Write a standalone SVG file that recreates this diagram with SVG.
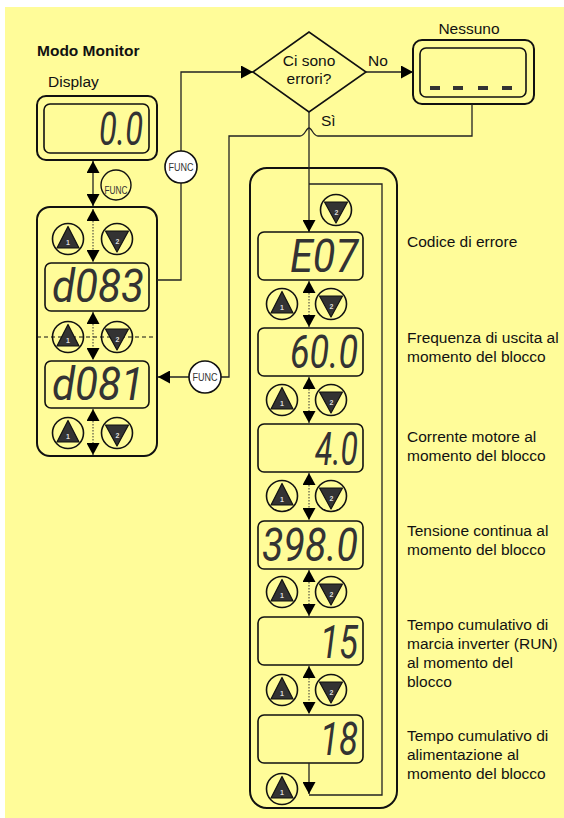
<svg xmlns="http://www.w3.org/2000/svg" width="564" height="818" viewBox="0 0 564 818">
<style>
.bg{fill:#FFFC99}
.lbl{font-family:"Liberation Sans",Arial,sans-serif;font-size:15.5px;fill:#111}
.ttl{font-family:"Liberation Sans",Arial,sans-serif;font-size:15.5px;font-weight:bold;fill:#111}
.box{fill:none;stroke:#111;stroke-width:2}
.scr{fill:none;stroke:#111;stroke-width:1.6}
.seg{font-family:Roboto,"Liberation Sans",Arial,sans-serif;font-style:italic;font-weight:400;font-size:47px;fill:#333;text-anchor:end}
.btn{fill:none;stroke:#111;stroke-width:1.6}
.tri{fill:#333;stroke:#111;stroke-width:1.2;stroke-linejoin:round}
.num{font-family:"Liberation Sans",Arial,sans-serif;font-size:7px;font-weight:bold;fill:#ddd;text-anchor:middle}
.con{fill:none;stroke:#222;stroke-width:1.3}
.dot{fill:none;stroke:#333;stroke-width:1;stroke-dasharray:1.5 1.5}
.dash{fill:none;stroke:#111;stroke-width:1;stroke-dasharray:4 3}
.fn{fill:#fff;stroke:#111;stroke-width:1.6}
.fns{fill:#FFFC99;stroke:#111;stroke-width:1.4}
.fnt{font-family:"Liberation Sans",Arial,sans-serif;font-size:10.5px;fill:#333;text-anchor:middle}
.dsh{fill:#333}
</style>
<defs>
<marker id="ah" viewBox="0 0 12 13" refX="12" refY="6.5" markerWidth="12" markerHeight="13" markerUnits="userSpaceOnUse" orient="auto-start-reverse">
<path d="M0,0 L12,6.5 L0,13 z" fill="#000"/>
</marker>
<g id="up">
<circle class="btn" cx="0" cy="0" r="15.5"/>
<polygon class="tri" points="0,-12.5 -11,9 11,9"/>
<text class="num" x="0" y="6">1</text>
</g>
<g id="dn">
<circle class="btn" cx="0" cy="0" r="15.5"/>
<polygon class="tri" points="-11.5,-8 11.5,-8 0,13"/>
<text class="num" x="0.5" y="5">2</text>
</g>
</defs>

<rect class="bg" x="5" y="7" width="559" height="811"/>

<g id="title">
<text class="ttl" x="37" y="56">Modo Monitor</text>
<text class="lbl" x="48" y="87">Display</text>
</g>

<g id="display">
<rect class="box" x="37" y="96" width="120" height="64" rx="9"/>
<rect class="scr" x="44" y="104" width="105" height="49" rx="6"/>
<text class="seg" x="143" y="145" textLength="44" lengthAdjust="spacingAndGlyphs">0.0</text>
</g>

<g id="left-panel">
<rect class="box" x="37" y="207" width="120" height="249" rx="13"/>
<line class="dash" x1="37" y1="337" x2="157" y2="337"/>
<rect class="scr" x="45" y="263" width="104" height="48" rx="6"/>
<text class="seg" x="144" y="302" textLength="92" lengthAdjust="spacingAndGlyphs">d083</text>
<rect class="scr" x="45" y="361" width="104" height="47" rx="6"/>
<text class="seg" x="144" y="400" textLength="92" lengthAdjust="spacingAndGlyphs">d081</text>
<use href="#up" x="68" y="239"/>
<use href="#dn" x="117" y="239"/>
<use href="#up" x="68" y="337"/>
<use href="#dn" x="117" y="337"/>
<use href="#up" x="68" y="433"/>
<use href="#dn" x="117" y="433"/>
<line class="dot" x1="93" y1="209" x2="93" y2="262" marker-start="url(#ah)" marker-end="url(#ah)"/>
<line class="dot" x1="93" y1="312" x2="93" y2="360" marker-start="url(#ah)" marker-end="url(#ah)"/>
<line class="dot" x1="93" y1="409" x2="93" y2="455" marker-start="url(#ah)" marker-end="url(#ah)"/>
</g>

<g id="decision">
<polygon class="scr" points="253,72 309,32 366,72 309,112"/>
<text class="lbl" x="309" y="66" text-anchor="middle">Ci sono</text>
<text class="lbl" x="309" y="83.5" text-anchor="middle">errori?</text>
</g>

<g id="nessuno">
<text class="lbl" x="469" y="34" text-anchor="middle">Nessuno</text>
<rect class="box" x="413" y="40" width="121" height="64" rx="9"/>
<rect class="scr" x="420" y="48" width="106" height="49" rx="6"/>
<rect class="dsh" x="430" y="86" width="10" height="4"/>
<rect class="dsh" x="453" y="86" width="10" height="4"/>
<rect class="dsh" x="478" y="86" width="10" height="4"/>
<rect class="dsh" x="502" y="86" width="10" height="4"/>
</g>

<g id="right-panel">
<rect class="box" x="250" y="168" width="147" height="640" rx="17"/>
<use href="#dn" x="336" y="210"/>
<rect class="scr" x="258" y="232" width="105" height="48" rx="6"/>
<text class="seg" x="358" y="272" textLength="68" lengthAdjust="spacingAndGlyphs">E07</text>
<rect class="scr" x="258" y="328" width="105" height="48" rx="6"/>
<text class="seg" x="358" y="368" textLength="68" lengthAdjust="spacingAndGlyphs">60.0</text>
<rect class="scr" x="258" y="424" width="105" height="48" rx="6"/>
<text class="seg" x="358" y="465" textLength="43" lengthAdjust="spacingAndGlyphs">4.0</text>
<rect class="scr" x="258" y="521" width="105" height="48" rx="6"/>
<text class="seg" x="358" y="561" textLength="96" lengthAdjust="spacingAndGlyphs">398.0</text>
<rect class="scr" x="258" y="617" width="105" height="48" rx="6"/>
<text class="seg" x="358" y="658" textLength="38" lengthAdjust="spacingAndGlyphs">15</text>
<rect class="scr" x="258" y="715" width="105" height="48" rx="6"/>
<text class="seg" x="358" y="755" textLength="38" lengthAdjust="spacingAndGlyphs">18</text>
<use href="#up" x="282" y="304"/>
<use href="#dn" x="331" y="304"/>
<use href="#up" x="282" y="400"/>
<use href="#dn" x="331" y="400"/>
<use href="#up" x="282" y="496"/>
<use href="#dn" x="331" y="496"/>
<use href="#up" x="282" y="592"/>
<use href="#dn" x="331" y="592"/>
<use href="#up" x="282" y="690"/>
<use href="#dn" x="331" y="690"/>
<use href="#up" x="282" y="789"/>
<line class="dot" x1="309" y1="281" x2="309" y2="327" marker-start="url(#ah)" marker-end="url(#ah)"/>
<line class="dot" x1="309" y1="377" x2="309" y2="423" marker-start="url(#ah)" marker-end="url(#ah)"/>
<line class="dot" x1="309" y1="473" x2="309" y2="520" marker-start="url(#ah)" marker-end="url(#ah)"/>
<line class="dot" x1="309" y1="570" x2="309" y2="616" marker-start="url(#ah)" marker-end="url(#ah)"/>
<line class="dot" x1="309" y1="666" x2="309" y2="714" marker-start="url(#ah)" marker-end="url(#ah)"/>
</g>

<g id="labels">
<text class="lbl" x="407" y="247">Codice di errore</text>
<text class="lbl" x="407" y="343">Frequenza di uscita al</text>
<text class="lbl" x="407" y="362">momento del blocco</text>
<text class="lbl" x="407" y="442">Corrente motore al</text>
<text class="lbl" x="407" y="461">momento del blocco</text>
<text class="lbl" x="407" y="536">Tensione continua al</text>
<text class="lbl" x="407" y="555">momento del blocco</text>
<text class="lbl" x="407" y="630">Tempo cumulativo di</text>
<text class="lbl" x="407" y="649">marcia inverter (RUN)</text>
<text class="lbl" x="407" y="668">al momento del</text>
<text class="lbl" x="407" y="687">blocco</text>
<text class="lbl" x="407" y="741">Tempo cumulativo di</text>
<text class="lbl" x="407" y="760">alimentazione al</text>
<text class="lbl" x="407" y="779">momento del blocco</text>
<text class="lbl" x="368" y="66">No</text>
<text class="lbl" x="321" y="125.5">Sì</text>
</g>

<g id="connectors">
<line class="con" x1="93" y1="161" x2="93" y2="206" marker-start="url(#ah)" marker-end="url(#ah)"/>
<path class="con" d="M157,280 H181 V72 H253" marker-end="url(#ah)"/>
<path class="con" d="M366,72 H413" marker-end="url(#ah)"/>
<path class="con" d="M309,112 V232" marker-end="url(#ah)"/>
<path class="con" d="M472,104 V136 H318 C313,136 312,128 309,128 C306,128 305,136 300,136 H229 V377 H158" marker-end="url(#ah)"/>
<path class="con" d="M309,795 H382 V184 H309"/>
<path class="con" d="M309,763 V794" marker-end="url(#ah)"/>
</g>

<g id="func-small">
<circle class="fns" cx="116" cy="185" r="15"/>
<text class="fnt" x="116" y="194" font-size="10" textLength="23" lengthAdjust="spacingAndGlyphs">FUNC</text>
</g>
<g id="func-top">
<circle class="fn" cx="181" cy="167" r="16"/>
<text class="fnt" x="181" y="171" textLength="25" lengthAdjust="spacingAndGlyphs">FUNC</text>
</g>
<g id="func-mid">
<circle class="fn" cx="205" cy="377" r="16"/>
<text class="fnt" x="205" y="381" textLength="25" lengthAdjust="spacingAndGlyphs">FUNC</text>
</g>
</svg>
